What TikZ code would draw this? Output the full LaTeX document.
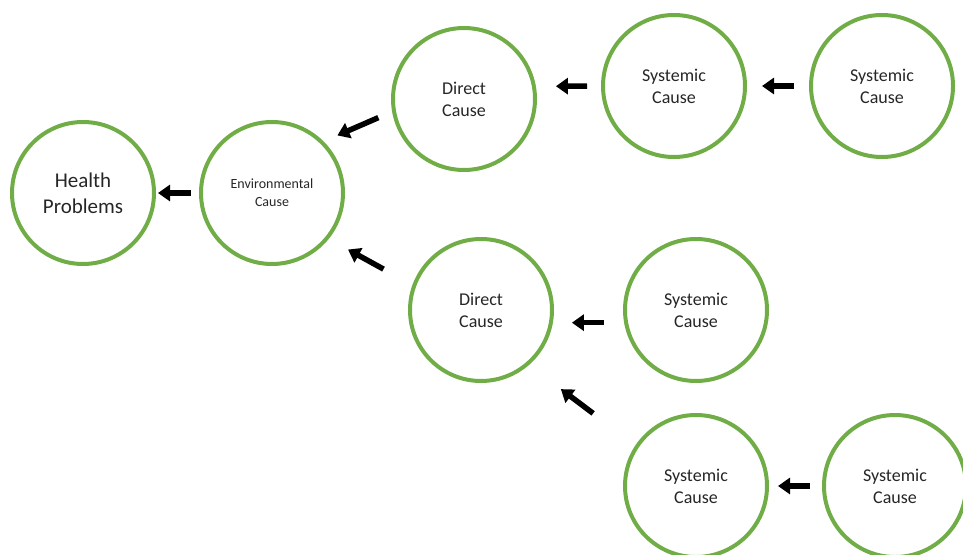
\documentclass[tikz,border=0pt]{standalone}
\usepackage{fontspec}
\setmainfont{Carlito}
\usetikzlibrary{arrows.meta,positioning}

\definecolor{causegreen}{HTML}{70AD47}
\definecolor{causetext}{HTML}{262626}

\begin{document}
\begin{tikzpicture}[x=1pt,y=-1pt,->,>={Triangle[width=16pt,length=12pt]},
    line width=5.5pt,
    cause/.style={circle,draw=causegreen,line width=4pt,minimum size=142pt,
      inner sep=0pt,align=center,text=causetext,
      font=\fontsize{18}{22}\selectfont}]

  \clip (0,0) rectangle (963,554);

  \node[cause,font=\fontsize{21}{26}\selectfont] (health) at (83,193) {Health\\Problems};
  \node[cause,font=\fontsize{14}{18}\selectfont] (env) [right of=health,node distance=189pt] {Environmental\\Cause};

  \node[cause] (dtop) at (464,99)                          {Direct\\Cause};
  \node[cause] (stm)  at (674,86)                          {Systemic\\Cause};
  \node[cause] (str)  [right of=stm,node distance=208pt]   {Systemic\\Cause};

  \node[cause] (dmid) at (481,310)                         {Direct\\Cause};
  \node[cause] (smid) [right of=dmid,node distance=215pt]  {Systemic\\Cause};
  \node[cause] (sbl)  [below of=smid,node distance=176pt]  {Systemic\\Cause};
  \node[cause] (sbr)  [right of=sbl,node distance=199pt]   {Systemic\\Cause};

  \path (env.west) edge [shorten <=8pt,shorten >=2pt] (health.east);
  \path (dtop.190) edge [shorten <=15pt,shorten >=15pt] (env.45);
  \path (dmid.160) edge [shorten <=33pt,shorten >=22pt] (env.321);
  \path (stm.west) edge [shorten <=14pt,shorten >=20pt] (dtop.10);
  \path (str.west) edge [shorten <=15pt,shorten >=15pt] (stm.east);
  \path (smid.190) edge [shorten <=20pt,shorten >=19pt] (dmid.350);
  \path (sbl.146)  edge [shorten <=53pt,shorten >=40pt] (dmid.311);
  \path (sbr.west) edge [shorten <=12pt,shorten >=9pt]  (sbl.east);
\end{tikzpicture}
\end{document}
